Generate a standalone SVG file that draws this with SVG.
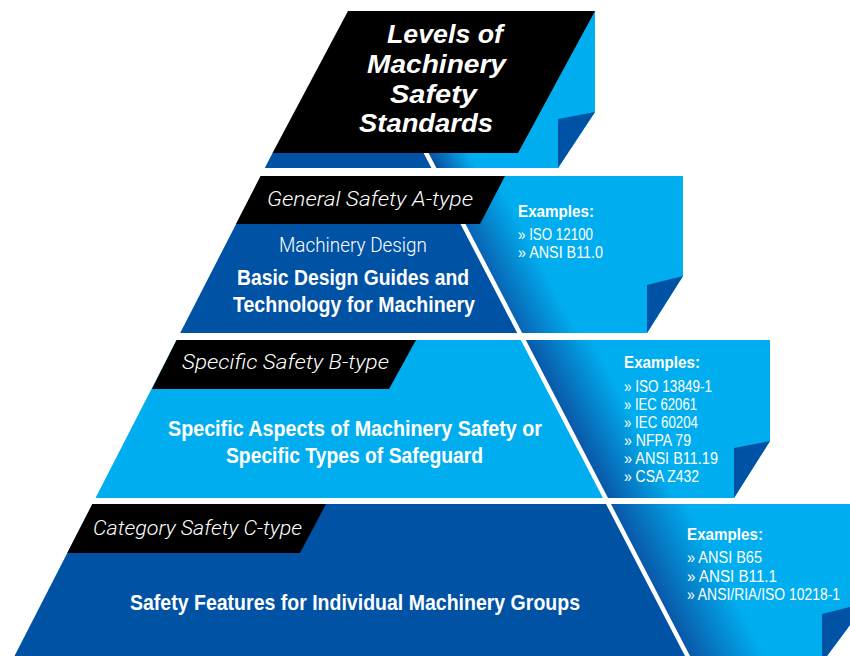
<svg xmlns="http://www.w3.org/2000/svg" width="850" height="656" viewBox="0 0 850 656">
<defs>
<style>
.cyan{fill:#00AEEF}
.dark{fill:#0052A5}
.blk{fill:#000}
.title{font-family:"Liberation Sans",Arial,sans-serif;font-weight:bold;font-style:italic;font-size:26px;fill:#fff}
.tag{font-family:Roboto,"Liberation Sans",sans-serif;font-weight:300;font-style:italic;font-size:20px;fill:#fff}
.sub{font-family:Roboto,"Liberation Sans",sans-serif;font-weight:300;font-size:21px;fill:#fff}
.main{font-family:"Liberation Sans",Arial,sans-serif;font-weight:bold;font-size:22px;fill:#fff}
.exh{font-family:"Liberation Sans",Arial,sans-serif;font-weight:bold;font-size:17px;fill:#fff}
.exi{font-family:"Liberation Sans",Arial,sans-serif;font-size:16px;fill:#fff}
</style>
<linearGradient id="g0" gradientUnits="userSpaceOnUse" x1="431" y1="160" x2="463" y2="143">
<stop offset="0" stop-color="#0A4E9E"/><stop offset="1" stop-color="#00AEEF"/>
</linearGradient>
<linearGradient id="gA" gradientUnits="userSpaceOnUse" x1="482" y1="265" x2="530" y2="240">
<stop offset="0" stop-color="#0A5EAE"/><stop offset="1" stop-color="#00AEEF"/>
</linearGradient>
<linearGradient id="gB" gradientUnits="userSpaceOnUse" x1="565" y1="420" x2="620" y2="391">
<stop offset="0" stop-color="#0A55A6"/><stop offset="1" stop-color="#00AEEF"/>
</linearGradient>
<linearGradient id="gC" gradientUnits="userSpaceOnUse" x1="648" y1="580" x2="710" y2="548">
<stop offset="0" stop-color="#0A55A6"/><stop offset="1" stop-color="#00AEEF"/>
</linearGradient>
</defs>
<rect width="850" height="656" fill="#fff"/>

<g id="title">
<polygon fill="url(#g0)" points="420,11 595,11 595,112 558,168 436.4,168 428.6,153 420,153"/>
<polygon class="dark" points="558,119 595,112 558,168"/>
<polygon class="dark" points="272.5,153 423.6,153 431.4,168 264.8,168"/>
<polygon class="blk" points="348,11 595,11 518,153 272.5,153"/>
<text class="title" x="387" y="43" textLength="116" lengthAdjust="spacingAndGlyphs">Levels of</text>
<text class="title" x="367" y="73" textLength="139" lengthAdjust="spacingAndGlyphs">Machinery</text>
<text class="title" x="390" y="103" textLength="87" lengthAdjust="spacingAndGlyphs">Safety</text>
<text class="title" x="359" y="132" textLength="134" lengthAdjust="spacingAndGlyphs">Standards</text>
</g>

<g id="level-a">
<polygon fill="url(#gA)" points="440.5,176 683,176 683,276 647,333 522.2,333"/>
<polygon class="dark" points="647,285 683,276 647,333"/>
<polygon class="dark" points="260.7,176 435.5,176 517.2,333 180.2,333"/>
<polygon class="blk" points="260.7,176 505,176 480,224 236,224"/>
<text class="tag" x="267" y="206" textLength="206" lengthAdjust="spacingAndGlyphs">General Safety A-type</text>
<text class="sub" x="279" y="252" textLength="148" lengthAdjust="spacingAndGlyphs">Machinery Design</text>
<text class="main" x="237" y="285" textLength="232" lengthAdjust="spacingAndGlyphs">Basic Design Guides and</text>
<text class="main" x="233" y="312" textLength="242" lengthAdjust="spacingAndGlyphs">Technology for Machinery</text>
<text class="exh" x="518" y="217" textLength="76" lengthAdjust="spacingAndGlyphs">Examples:</text>
<text class="exi" x="518" y="240" textLength="75" lengthAdjust="spacingAndGlyphs">» ISO 12100</text>
<text class="exi" x="518" y="258" textLength="85" lengthAdjust="spacingAndGlyphs">» ANSI B11.0</text>
</g>

<g id="level-b">
<polygon fill="url(#gB)" points="525.8,340 770,340 770,441 734,498 608,498"/>
<polygon class="dark" points="734,448 770,441 734,498"/>
<polygon class="cyan" points="176.6,340 520.8,340 603,498 95.5,498"/>
<polygon class="blk" points="176.6,340 416,340 389,389 152,389"/>
<text class="tag" x="182" y="369" textLength="207" lengthAdjust="spacingAndGlyphs">Specific Safety B-type</text>
<text class="main" x="168" y="436" textLength="374" lengthAdjust="spacingAndGlyphs">Specific Aspects of Machinery Safety or</text>
<text class="main" x="226" y="463" textLength="257" lengthAdjust="spacingAndGlyphs">Specific Types of Safeguard</text>
<text class="exh" x="624" y="368" textLength="76" lengthAdjust="spacingAndGlyphs">Examples:</text>
<text class="exi" x="624" y="392" textLength="88" lengthAdjust="spacingAndGlyphs">» ISO 13849-1</text>
<text class="exi" x="624" y="410" textLength="73" lengthAdjust="spacingAndGlyphs">» IEC 62061</text>
<text class="exi" x="624" y="428" textLength="74" lengthAdjust="spacingAndGlyphs">» IEC 60204</text>
<text class="exi" x="624" y="446" textLength="67" lengthAdjust="spacingAndGlyphs">» NFPA 79</text>
<text class="exi" x="624" y="464" textLength="94" lengthAdjust="spacingAndGlyphs">» ANSI B11.19</text>
<text class="exi" x="624" y="482" textLength="75" lengthAdjust="spacingAndGlyphs">» CSA Z432</text>
</g>

<g id="level-c">
<polygon fill="url(#gC)" points="611,504 850,504 850,625 827,656 690,656"/>
<polygon class="dark" points="822,614 850,607 850,625 827,656 822,656"/>
<polygon class="dark" points="92.4,504 606,504 685,656 14.5,656"/>
<polygon class="blk" points="92.4,504 326,504 300,553 67.3,553"/>
<text class="tag" x="93" y="535" textLength="209" lengthAdjust="spacingAndGlyphs">Category Safety C-type</text>
<text class="main" x="130" y="610" textLength="450" lengthAdjust="spacingAndGlyphs">Safety Features for Individual Machinery Groups</text>
<text class="exh" x="687" y="540" textLength="76" lengthAdjust="spacingAndGlyphs">Examples:</text>
<text class="exi" x="687" y="563" textLength="75" lengthAdjust="spacingAndGlyphs">» ANSI B65</text>
<text class="exi" x="687" y="582" textLength="90" lengthAdjust="spacingAndGlyphs">» ANSI B11.1</text>
<text class="exi" x="687" y="600" textLength="153" lengthAdjust="spacingAndGlyphs">» ANSI/RIA/ISO 10218-1</text>
</g>

<g id="connectors"/>
</svg>
